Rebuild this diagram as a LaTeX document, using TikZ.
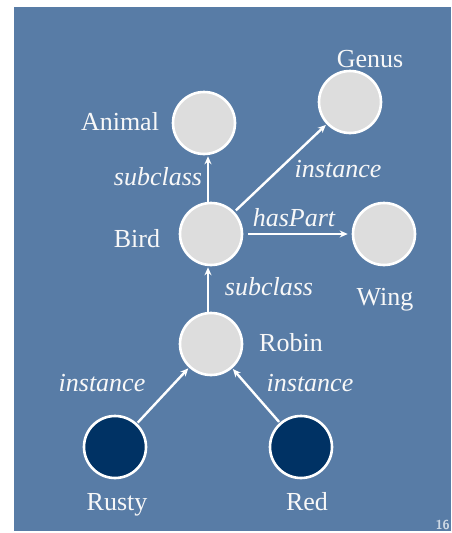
\documentclass[tikz,border=0pt]{standalone}
\usepackage{fontspec}
\setmainfont{Liberation Serif}
\usetikzlibrary{arrows.meta}
\definecolor{bgblue}{RGB}{88,124,166}
\definecolor{lightnode}{RGB}{221,221,221}
\definecolor{darknode}{RGB}{0,50,100}
\definecolor{txt}{RGB}{248,248,248}
\tikzset{
  concept/.style={circle,draw=white,line width=2.6pt,fill=lightnode,minimum size=62pt,inner sep=0pt},
  inst/.style={circle,draw=white,line width=2.6pt,fill=darknode,minimum size=62pt,inner sep=0pt},
  lbl/.style={text=txt,font=\fontsize{26}{28}\selectfont,anchor=base,inner sep=0pt},
  elbl/.style={text=txt,font=\fontsize{26}{28}\selectfont\itshape,anchor=base,inner sep=0pt},
  arr/.style={draw=white,line width=2.4pt,-{Stealth[length=8pt,width=7pt]}},
}
\begin{document}
\begin{tikzpicture}[x=1pt,y=-1pt]
\useasboundingbox (0,0) rectangle (451,533);
\fill[white] (0,0) rectangle (451,533);
\fill[bgblue] (14,7) rectangle (451,531);
% nodes
\node[concept] (animal) at (204,123) {};
\node[concept] (genus) at (350,102) {};
\node[concept] (bird) at (211,234) {};
\node[concept] (wing) at (384,234) {};
\node[concept] (robin) at (211,344) {};
\node[inst] (rusty) at (115,447) {};
\node[inst] (red) at (301,447) {};
% node labels
\node[lbl] (tanimal) at (120,130) {Animal};
\node[lbl] (tgenus) at (370,67) {Genus};
\node[lbl] (tbird) at (137,247) {Bird};
\node[lbl] (twing) at (385,305) {Wing};
\node[lbl] (trobin) at (291,351) {Robin};
\node[lbl] (trusty) at (117,510) {Rusty};
\node[lbl] (tred) at (307,510) {Red};
% connectors
\draw[arr,shorten >=1pt] ([xshift=-3pt]bird.north) -- ([xshift=-3pt]bird.north |- animal.south);
\draw[arr,shorten <=2pt,shorten >=1pt] (bird) -- (genus);
\draw[arr,shorten <=5pt,shorten >=4pt] (bird.east) -- (wing.west);
\draw[arr,shorten >=1pt] ([xshift=-3pt]robin.north) -- ([xshift=-3pt]bird.south);
\draw[arr,shorten <=1pt,shorten >=1pt] (rusty) -- (robin);
\draw[arr,shorten <=1pt,shorten >=1pt] (red) -- (robin);
% edge labels
\node[elbl] (esub1) at (158,185) {subclass};
\node[elbl] (einst1) at (338,177) {instance};
\node[elbl] (ehas) at (294,226) {hasPart};
\node[elbl] (esub2) at (269,295) {subclass};
\node[elbl] (einst2) at (102,391) {instance};
\node[elbl] (einst3) at (310,391) {instance};
% page number
\node[anchor=base east,inner sep=0pt,text=white!70!bgblue,font=\fontsize{13}{14}\selectfont\sffamily\bfseries] (pnum) at (450,529) {16};
\end{tikzpicture}
\end{document}
